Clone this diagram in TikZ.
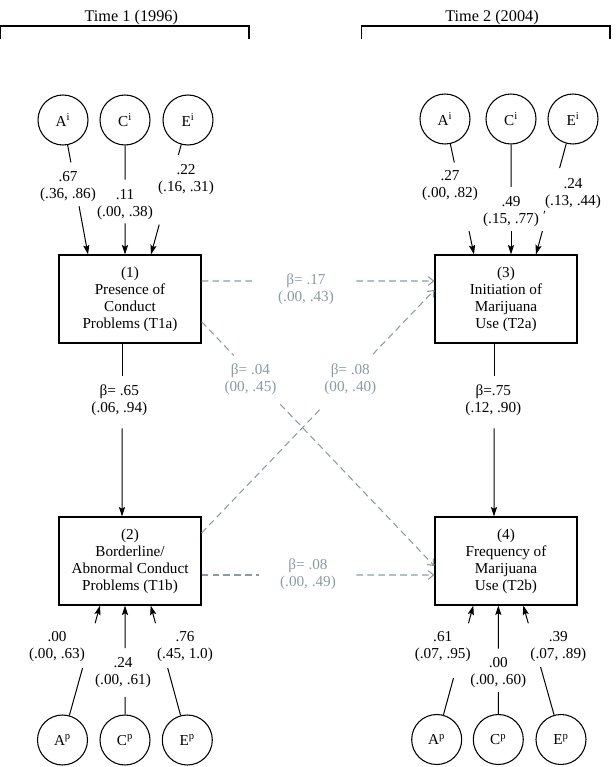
\documentclass[tikz,border=0pt]{standalone}
\usepackage{fontspec}
\setmainfont{Liberation Serif}
\usetikzlibrary{arrows.meta,calc}
\definecolor{pathgrey}{RGB}{138,156,162}
\newcommand{\splitlink}[5]{%
  \draw[#1] (#2) -- ($(#2)!#4!(#3)$);
  \draw[#1arr] ($(#2)!#5!(#3)$) -- (#3);}
\begin{document}
\begin{tikzpicture}[x=0.75pt,y=-0.75pt,
  every node/.style={font=\fontsize{11.4}{12.75}\selectfont},
  latent/.style={draw,circle,minimum size=37.5pt,inner sep=0pt,line width=0.8pt},
  obsbox/.style={draw,rectangle,minimum width=106.5pt,minimum height=66pt,inner sep=0pt,align=center,line width=0.9pt},
  coef/.style={align=center,inner sep=0pt},
  gcoef/.style={align=center,inner sep=0pt,text=pathgrey},
  title/.style={font=\fontsize{12.2}{14}\selectfont,inner sep=0pt},
  blk/.style={draw=black,line width=0.75pt},
  blkarr/.style={blk,-{Stealth[length=7pt,width=4.6pt,inset=1.2pt]}},
  gry/.style={draw=pathgrey,line width=0.8pt,dash pattern=on 5pt off 3.2pt},
  gryarr/.style={gry,-{Straight Barb[length=4pt,width=6.5pt]}}
]
\useasboundingbox (0,0) rectangle (615,767);

% time headers
\node[title] (t1) at (131.3,17.3) {Time 1 (1996)};
\node[title] (t2) at (492,17.3) {Time 2 (2004)};
\draw[line width=0.8pt] (0.5,39) -- (0.5,26) -- (249,26) -- (249,39);
\draw[line width=0.8pt] (361.7,39) -- (361.7,26) -- (610,26) -- (610,39);

% observed variables
\node[obsbox] (b1) at (130,299) {(1)\\Presence of\\Conduct\\Problems (T1a)};
\node[obsbox] (b2) at (130,561) {(2)\\Borderline/\\Abnormal Conduct\\Problems (T1b)};
\node[obsbox] (b3) at (506,299) {(3)\\Initiation of\\Marijuana\\Use (T2a)};
\node[obsbox] (b4) at (506,561) {(4)\\Frequency of\\Marijuana\\Use (T2b)};

% latent factors
\node[latent] (Ai1) at (63,120) {A\textsuperscript{i}};
\node[latent] (Ci1) at (125,120) {C\textsuperscript{i}};
\node[latent] (Ei1) at (188,120) {E\textsuperscript{i}};
\node[latent] (Ai2) at (445,119) {A\textsuperscript{i}};
\node[latent] (Ci2) at (511,119) {C\textsuperscript{i}};
\node[latent] (Ei2) at (573,119) {E\textsuperscript{i}};
\node[latent] (Ap1) at (62.5,740) {A\textsuperscript{p}};
\node[latent] (Cp1) at (125,740) {C\textsuperscript{p}};
\node[latent] (Ep1) at (187.3,740) {E\textsuperscript{p}};
\node[latent] (Ap2) at (436.7,739.5) {A\textsuperscript{p}};
\node[latent] (Cp2) at (498.3,739.5) {C\textsuperscript{p}};
\node[latent] (Ep2) at (561,739.5) {E\textsuperscript{p}};

% end points on the boxes
\coordinate (b1A) at (88,0 |- b1.north);
\coordinate (b1C) at (125,0 |- b1.north);
\coordinate (b1E) at (151,0 |- b1.north);
\coordinate (b3A) at (474,0 |- b3.north);
\coordinate (b3C) at (511,0 |- b3.north);
\coordinate (b3E) at (536,0 |- b3.north);
\coordinate (b2A) at (100,0 |- b2.south);
\coordinate (b2C) at (125,0 |- b2.south);
\coordinate (b2E) at (150.7,0 |- b2.south);
\coordinate (b4A) at (473.3,0 |- b4.south);
\coordinate (b4C) at (498.3,0 |- b4.south);
\coordinate (b4E) at (523.3,0 |- b4.south);
\coordinate (b1s) at (122,0 |- b1.south);
\coordinate (b2n) at (122,0 |- b2.north);
\coordinate (b3s) at (494,0 |- b3.south);
\coordinate (b4n) at (494,0 |- b4.north);
\coordinate (h1s) at (b1.east |- 0,281);
\coordinate (h1e) at (b3.west |- 0,281);
\coordinate (h2s) at (b2.east |- 0,575);
\coordinate (h2e) at (b4.west |- 0,575);
\coordinate (d1s) at (b1.east |- 0,321.7);
\coordinate (d1e) at (b4.west |- 0,566);
\coordinate (d2s) at (b2.east |- 0,533);
\coordinate (d2e) at (b3.west |- 0,290);

% ACE paths, time 1
\splitlink{blk}{Ai1}{b1A}{0.316}{0.642}
\splitlink{blk}{Ci1}{b1C}{0.444}{0.770}
\splitlink{blk}{Ei1}{b1E}{0.259}{0.778}
\splitlink{blk}{Ap1}{b2A}{0.536}{0.869}
\splitlink{blk}{Cp1}{b2C}{0.321}{0.684}
\splitlink{blk}{Ep1}{b2E}{0.536}{0.869}
% ACE paths, time 2
\splitlink{blk}{Ai2}{b3A}{0.321}{0.828}
\splitlink{blk}{Ci2}{b3C}{0.502}{0.828}
\splitlink{blk}{Ei2}{b3E}{0.3625}{0.828}
\draw[line width=0.6pt] (544.6,210.8) -- (544,213.6);
\splitlink{blk}{Ap2}{b4A}{0.459}{0.868}
\splitlink{blk}{Cp2}{b4C}{0.355}{0.678}
\splitlink{blk}{Ep2}{b4E}{0.541}{0.868}

% stability paths
\splitlink{blk}{b1s}{b2n}{0.190}{0.490}
\splitlink{blk}{b3s}{b4n}{0.190}{0.490}

% cross paths
\splitlink{gry}{h1s}{h1e}{0.231}{0.665}
\splitlink{gry}{h2s}{h2e}{0.245}{0.665}
\splitlink{gry}{d1s}{d1e}{0.138}{0.338}
\splitlink{gry}{d2s}{d2e}{0.516}{0.736}

% coefficient labels
\node[coef] (lAi1) at (68,186.5) {.67\\(.36, .86)};
\node[coef] (lCi1) at (125,205) {.11\\(.00, .38)};
\node[coef] (lEi1) at (186,180) {.22\\(.16, .31)};
\node[coef] (lAi2) at (450,185.5) {.27\\(.00, .82)};
\node[coef] (lCi2) at (511,211.3) {.49\\(.15, .77)};
\node[coef] (lEi2) at (573,194) {.24\\(.13, .44)};
\node[coef] (lAp1) at (57,646.7) {.00\\(.00, .63)};
\node[coef] (lCp1) at (123,672.5) {.24\\(.00, .61)};
\node[coef] (lEp1) at (185,646.7) {.76\\(.45, 1.0)};
\node[coef] (lAp2) at (442.7,646.7) {.61\\(.07, .95)};
\node[coef] (lCp2) at (498.3,672.2) {.00\\(.00, .60)};
\node[coef] (lEp2) at (558.3,646.7) {.39\\(.07, .89)};
\node[coef] (l12) at (119.3,400) {β= .65\\(.06, .94)};
\node[coef] (l34) at (493.3,400) {β=.75\\(.12, .90)};
\node[gcoef] (l13) at (306,289) {β= .17\\(.00, .43)};
\node[gcoef] (l24) at (308,574) {β= .08\\(.00, .49)};
\node[gcoef] (l14) at (250.5,379) {β= .04\\(00, .45)};
\node[gcoef] (l23) at (350.3,379) {β= .08\\(00, .40)};
\end{tikzpicture}
\end{document}
